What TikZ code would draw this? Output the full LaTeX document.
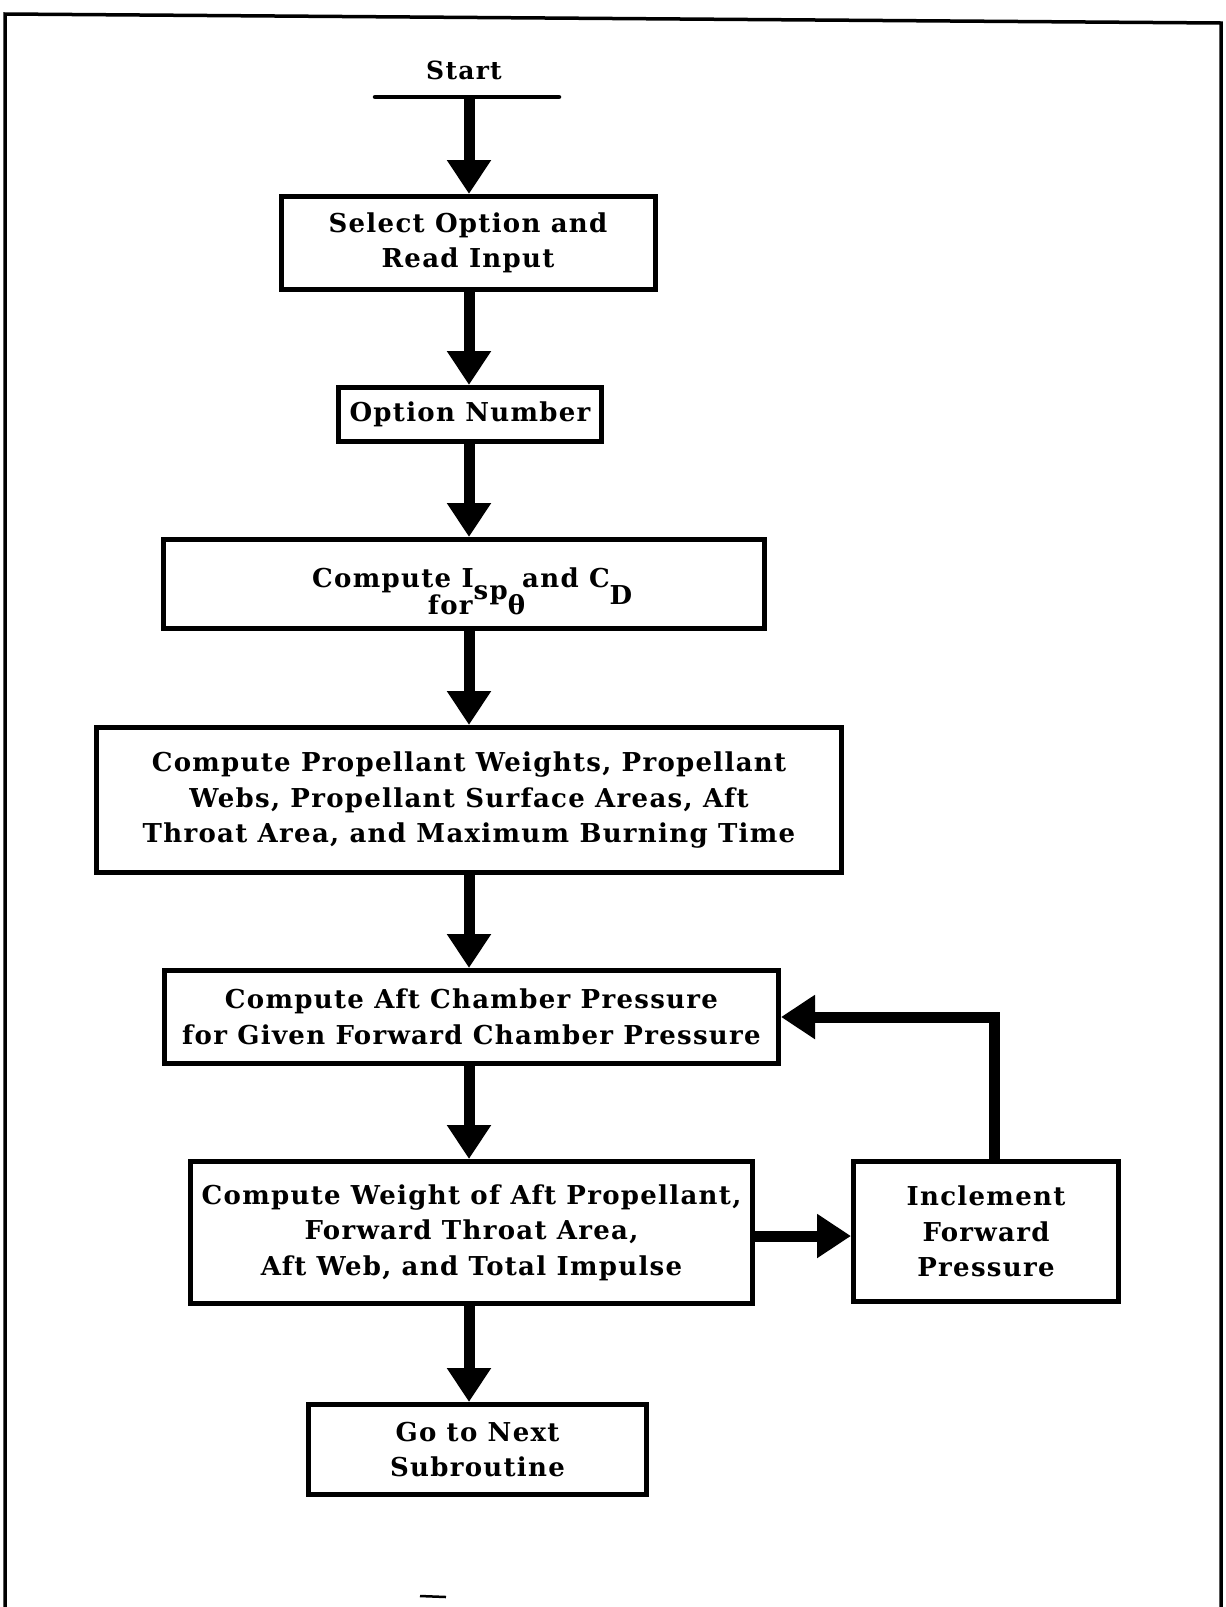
\documentclass[tikz,border=0pt]{standalone}
\usepackage{fontspec}
\setmainfont{DejaVu Serif}
\newfontfamily\boxfont[LetterSpace=5]{DejaVu Serif}
\usetikzlibrary{arrows.meta}

\begin{document}
\begin{tikzpicture}[x=1pt,y=-1pt,
  procbox/.style={draw, line width=5pt, align=center, inner sep=0pt,
    font=\boxfont\fontsize{26}{35.5}\selectfont\bfseries},
  plain/.style={inner sep=0pt, font=\boxfont\fontsize{26}{35.5}\selectfont\bfseries},
  flow/.style={line width=11pt, -{Triangle[width=42pt,length=34pt]}},
  rule/.style={line width=4.5pt, line cap=round},
  frame/.style={line width=3.5pt}]

% page area and outer frame (open at the bottom)
\useasboundingbox (0,0) rectangle (1226,1607);
\coordinate (ftl) at (5,14);
\coordinate (ftr) at (1221,23);
\coordinate (fbl) at (5,1607);
\coordinate (fbr) at (1221,1607);
\draw[frame] (fbl) -- (ftl) -- (ftr) -- (fbr);

% start terminal
\node[plain, font=\boxfont\fontsize{25}{30}\selectfont\bfseries] (start) at (464,70) {Start};
\coordinate (barL) at (375,97);
\coordinate (barR) at (559,97);
\coordinate (barM) at (469,97);
\draw[rule] (barL) -- (barR);

% processing steps
\node[procbox, minimum width=374, minimum height=93] (b1) at (468,243)
  {Select Option and\\Read Input};
\node[procbox, minimum width=263, minimum height=54] (b2) at (470,414.5)
  {Option Number};
\node[procbox, minimum width=601, minimum height=89] (b3) at (464,584) {};
\node[plain, anchor=base west] (isp) at (312,587)
  {Compute I\llap{\raisebox{-27pt}{for\hspace{1pt}}}\raisebox{-12pt}{sp}\raisebox{-27pt}{θ}\hspace{-3pt}and C\raisebox{-17pt}{D}};
\node[procbox, minimum width=745, minimum height=145] (b4) at (469,800)
  {Compute Propellant Weights, Propellant\\Webs, Propellant Surface Areas, Aft\\Throat Area, and Maximum Burning Time};
\node[procbox, minimum width=614, minimum height=93] (b5) at (471.5,1017)
  {Compute Aft Chamber Pressure\\for Given Forward Chamber Pressure};
\node[procbox, minimum width=562, minimum height=142] (b6) at (471.5,1232.5)
  {Compute Weight of Aft Propellant,\\Forward Throat Area,\\Aft Web, and Total Impulse};
\node[procbox, minimum width=265, minimum height=140] (b7) at (986,1231.5)
  {Inclement\\Forward\\Pressure};
\node[procbox, minimum width=338, minimum height=90] (b8) at (477.5,1449.5)
  {Go to Next\\Subroutine};

% main column of connectors
\coordinate (col) at (469,0);
\draw[flow] (barM) -- (b1.north -| col);
\draw[flow] (b1.south -| col) -- (b2.north -| col);
\draw[flow] (b2.south -| col) -- (b3.north -| col);
\draw[flow] (b3.south -| col) -- (b4.north -| col);
\draw[flow] (b4.south -| col) -- (b5.north -| col);
\draw[flow] (b5.south -| col) -- (b6.north -| col);
\draw[flow] (b6.south -| col) -- (b8.north -| col);

% iteration loop
\coordinate (hy) at (0,1236);
\draw[flow] (b6.east |- hy) -- (b7.west |- hy);
\coordinate (loopx) at (994,0);
\draw[flow] (b7.north -| loopx) |- (b5.east);

% small mark near the foot of the page
\coordinate (mkL) at (420,1596);
\coordinate (mkR) at (446,1597);
\draw[line width=2.5pt] (mkL) -- (mkR);
\end{tikzpicture}
\end{document}
